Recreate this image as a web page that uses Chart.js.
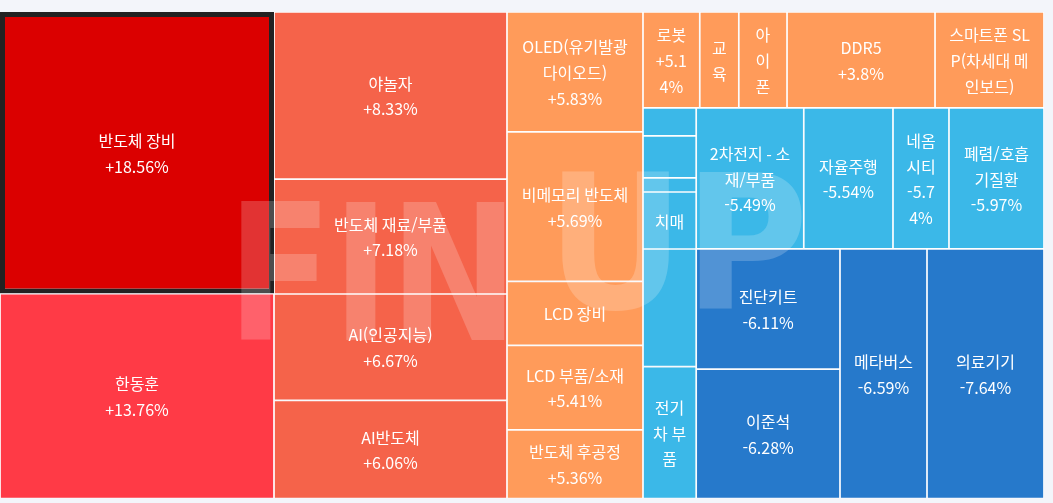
<!DOCTYPE html>
<html lang="ko">
<head>
<meta charset="utf-8">
<title>테마 트리맵</title>
<script src="https://cdn.jsdelivr.net/npm/chart.js@4.4.1/dist/chart.umd.min.js"></script>
<style>
  html, body { margin: 0; padding: 0; background: #f3f5fa; }
  #wrap { width: 1053px; height: 503px; position: relative; }
</style>
</head>
<body>
<div id="wrap"><canvas id="treemap"></canvas></div>
<script>
// themes, in the order the tiles are laid out (by change, high to low)
const categories = [
    "반도체 장비", "한동훈", "야놀자", "반도체 재료/부품", "AI(인공지능)", "AI반도체",
    "OLED(유기발광다이오드)", "비메모리 반도체", "LCD 장비", "LCD 부품/소재", "반도체 후공정",
    "로봇", "교육", "아이폰", "DDR5", "스마트폰 SLP(차세대 메인보드)",
    "", "", "", "치매", "", "전기차 부품",
    "2차전지 - 소재/부품", "자율주행", "네옴시티", "폐렴/호흡기질환",
    "진단키트", "이준석", "메타버스", "의료기기",
];
// tile weight (size of each theme)
const weights = [
    770.8, 560.9, 389.1, 267.3, 247.7, 228.3,
    162.9, 203.2, 86.8, 114.9, 93.2,
    54.4, 37.4, 46.2, 141.8, 104.4,
    14.9, 22.3, 7.5, 30.3, 62.5, 70.1,
    151.6, 125.7, 78.9, 133.9,
    172.7, 185.8, 216.9, 291.7,
];
// daily change, %
const changes = [
    18.56, 13.76, 8.33, 7.18, 6.67, 6.06,
    5.83, 5.69, 5.5, 5.41, 5.36,
    5.14, 4.9, 4.3, 3.8, 3.5,
    -3.3, -3.7, -4.1, -4.5, -4.9, -5.2,
    -5.49, -5.54, -5.74, -5.97,
    -6.11, -6.28, -6.59, -7.64,
];
const highlighted = "반도체 장비";

const FONT = '16px "Noto Sans CJK KR", "Noto Sans", sans-serif';
const LINE_H = 25.6;

function colorFor(c) {
    if (c >= 15) return "#db0000";
    if (c >= 10) return "#ff3a46";
    if (c >= 6) return "#f5634a";
    if (c >= 0) return "#ff9b5a";
    if (c > -6) return "#3bb8e8";
    return "#2679cb";
}

// squarified layout (same steps as d3.treemapSquarify, golden ratio)
function squarify(values, x0, y0, x1, y1) {
    const ratio = (1 + Math.sqrt(5)) / 2;
    const n = values.length;
    const tiles = new Array(n);
    let value = values.reduce((a, b) => a + b, 0);
    let i0 = 0, i1 = 0;
    while (i0 < n) {
        const dx = x1 - x0, dy = y1 - y0;
        let sumValue;
        do sumValue = values[i1++]; while (!sumValue && i1 < n);
        let minValue = sumValue, maxValue = sumValue;
        const alpha = Math.max(dy / dx, dx / dy) / (value * ratio);
        let beta = sumValue * sumValue * alpha;
        let minRatio = Math.max(maxValue / beta, beta / minValue);
        for (; i1 < n; ++i1) {
            const v = values[i1];
            sumValue += v;
            if (v < minValue) minValue = v;
            if (v > maxValue) maxValue = v;
            beta = sumValue * sumValue * alpha;
            const newRatio = Math.max(maxValue / beta, beta / minValue);
            if (newRatio > minRatio) { sumValue -= v; break; }
            minRatio = newRatio;
        }
        if (dx < dy) {
            const yEnd = i1 >= n ? y1 : y0 + dy * sumValue / value;
            const k = (x1 - x0) / sumValue;
            let x = x0;
            for (let i = i0; i < i1; i++) {
                tiles[i] = { x0: x, x1: (x += values[i] * k), y0: y0, y1: yEnd };
            }
            y0 = yEnd;
        } else {
            const xEnd = i1 >= n ? x1 : x0 + dx * sumValue / value;
            const k = (y1 - y0) / sumValue;
            let y = y0;
            for (let i = i0; i < i1; i++) {
                tiles[i] = { x0: x0, x1: xEnd, y0: y, y1: (y += values[i] * k) };
            }
            x0 = xEnd;
        }
        value -= sumValue;
        i0 = i1;
    }
    return tiles;
}

// tiny treemap controller: squarify in data space, draw with bar elements
class TreemapController extends Chart.DatasetController {
    update(mode) {
        const meta = this._cachedMeta;
        this.updateElements(meta.data, 0, meta.data.length, mode);
    }
    updateElements(rects, start, count, mode) {
        const { xScale, yScale } = this._cachedMeta;
        const tiles = squarify(this.getDataset().data, xScale.min, yScale.min, xScale.max, yScale.max);
        for (let i = start; i < start + count; i++) {
            const t = tiles[i];
            const left = xScale.getPixelForValue(t.x0);
            const right = xScale.getPixelForValue(t.x1);
            const top = yScale.getPixelForValue(t.y0);
            const bottom = yScale.getPixelForValue(t.y1);
            this.updateElement(rects[i], i, {
                x: (left + right) / 2,
                y: top,
                base: bottom,
                width: right - left,
                height: bottom - top,
                horizontal: false,
                borderSkipped: {},
                inflateAmount: 0,
                enableBorderRadius: false,
                options: this.resolveDataElementOptions(i, mode),
            }, mode);
        }
    }
}
TreemapController.id = "treemap";
TreemapController.defaults = { dataElementType: "bar", datasetElementType: false };
Chart.register(TreemapController);

function tokenize(str) {
    const tokens = [];
    for (const ch of str) {
        const last = tokens[tokens.length - 1];
        if (last !== undefined && ("%)/".includes(ch) || last.endsWith("("))) {
            tokens[tokens.length - 1] = last + ch;
        } else {
            tokens.push(ch);
        }
    }
    return tokens;
}

function wrap(ctx, str, maxW) {
    const lines = [];
    let line = "";
    for (const tok of tokenize(str)) {
        const test = line + tok;
        if (line && ctx.measureText(test.trimEnd()).width > maxW) {
            lines.push(line.trimEnd());
            line = tok.trimStart();
        } else {
            line = test;
        }
    }
    if (line) lines.push(line.trimEnd());
    return lines;
}

const fmt = (c) => (c > 0 ? "+" : "") + c + "%";

const cellLabels = {
    id: "cellLabels",
    afterDraw(chart) {
        const ctx = chart.ctx;
        const els = chart.getDatasetMeta(0).data;
        ctx.save();
        ctx.font = FONT;
        ctx.fillStyle = "#ffffff";
        ctx.textAlign = "center";
        ctx.textBaseline = "middle";
        els.forEach((el, i) => {
            const name = categories[i];
            if (!name) return;
            const w = el.width, h = el.height;
            const maxW = w - 19.5, maxH = h - 16;
            const nameLines = wrap(ctx, name, maxW);
            let lines = nameLines.concat(wrap(ctx, fmt(changes[i]), maxW));
            if (lines.length * LINE_H > maxH) lines = nameLines;
            if (lines.length * LINE_H > maxH) return;
            const cy = el.y + h / 2;
            lines.forEach((ln, k) => {
                ctx.fillText(ln, el.x, cy + (k - (lines.length - 1) / 2) * LINE_H + 1);
            });
        });
        ctx.restore();
    },
};

// faint FINUP watermark over the tiles
function drawWord(ctx, text, left, right, top, bottom) {
    ctx.font = 'bold 100px "DejaVu Sans", sans-serif';
    const m = ctx.measureText(text);
    const inkW = m.actualBoundingBoxLeft + m.actualBoundingBoxRight;
    const inkH = m.actualBoundingBoxAscent;
    ctx.save();
    ctx.translate(left, bottom);
    ctx.scale((right - left) / inkW, (bottom - top) / inkH);
    ctx.fillText(text, m.actualBoundingBoxLeft, 0);
    ctx.restore();
}

const watermark = {
    id: "watermark",
    afterDatasetsDraw(chart) {
        const { ctx, chartArea: a } = chart;
        ctx.save();
        ctx.globalAlpha = 0.2;
        ctx.fillStyle = "#ffffff";
        ctx.textAlign = "left";
        ctx.textBaseline = "alphabetic";
        drawWord(ctx, "FIN", a.left + 241, a.left + 505, a.top + 190, a.top + 328);
        drawWord(ctx, "UP", a.left + 562, a.left + 803, a.top + 158, a.top + 296);
        ctx.restore();
    },
};

new Chart(document.getElementById("treemap"), {
    type: "treemap",
    data: {
        labels: categories,
        datasets: [{
            label: "테마",
            data: weights,
            backgroundColor: changes.map(colorFor),
            borderColor: categories.map((n) => (n === highlighted ? "#222222" : "#ffffff")),
            borderWidth: categories.map((n) => (n === highlighted ? 5 : 0.85)),
        }],
    },
    options: {
        responsive: true,
        maintainAspectRatio: false,
        animation: false,
        events: [],
        layout: { padding: { top: 12, left: 0, right: 9, bottom: 4.5 } },
        scales: {
            x: { type: "linear", display: false, min: 0, max: 1044, bounds: "data" },
            y: { type: "linear", display: false, min: 0, max: 486.5, reverse: true, bounds: "data" },
        },
        plugins: {
            legend: { display: false },
            tooltip: { enabled: false },
        },
    },
    plugins: [watermark, cellLabels],
});
</script>
</body>
</html>
